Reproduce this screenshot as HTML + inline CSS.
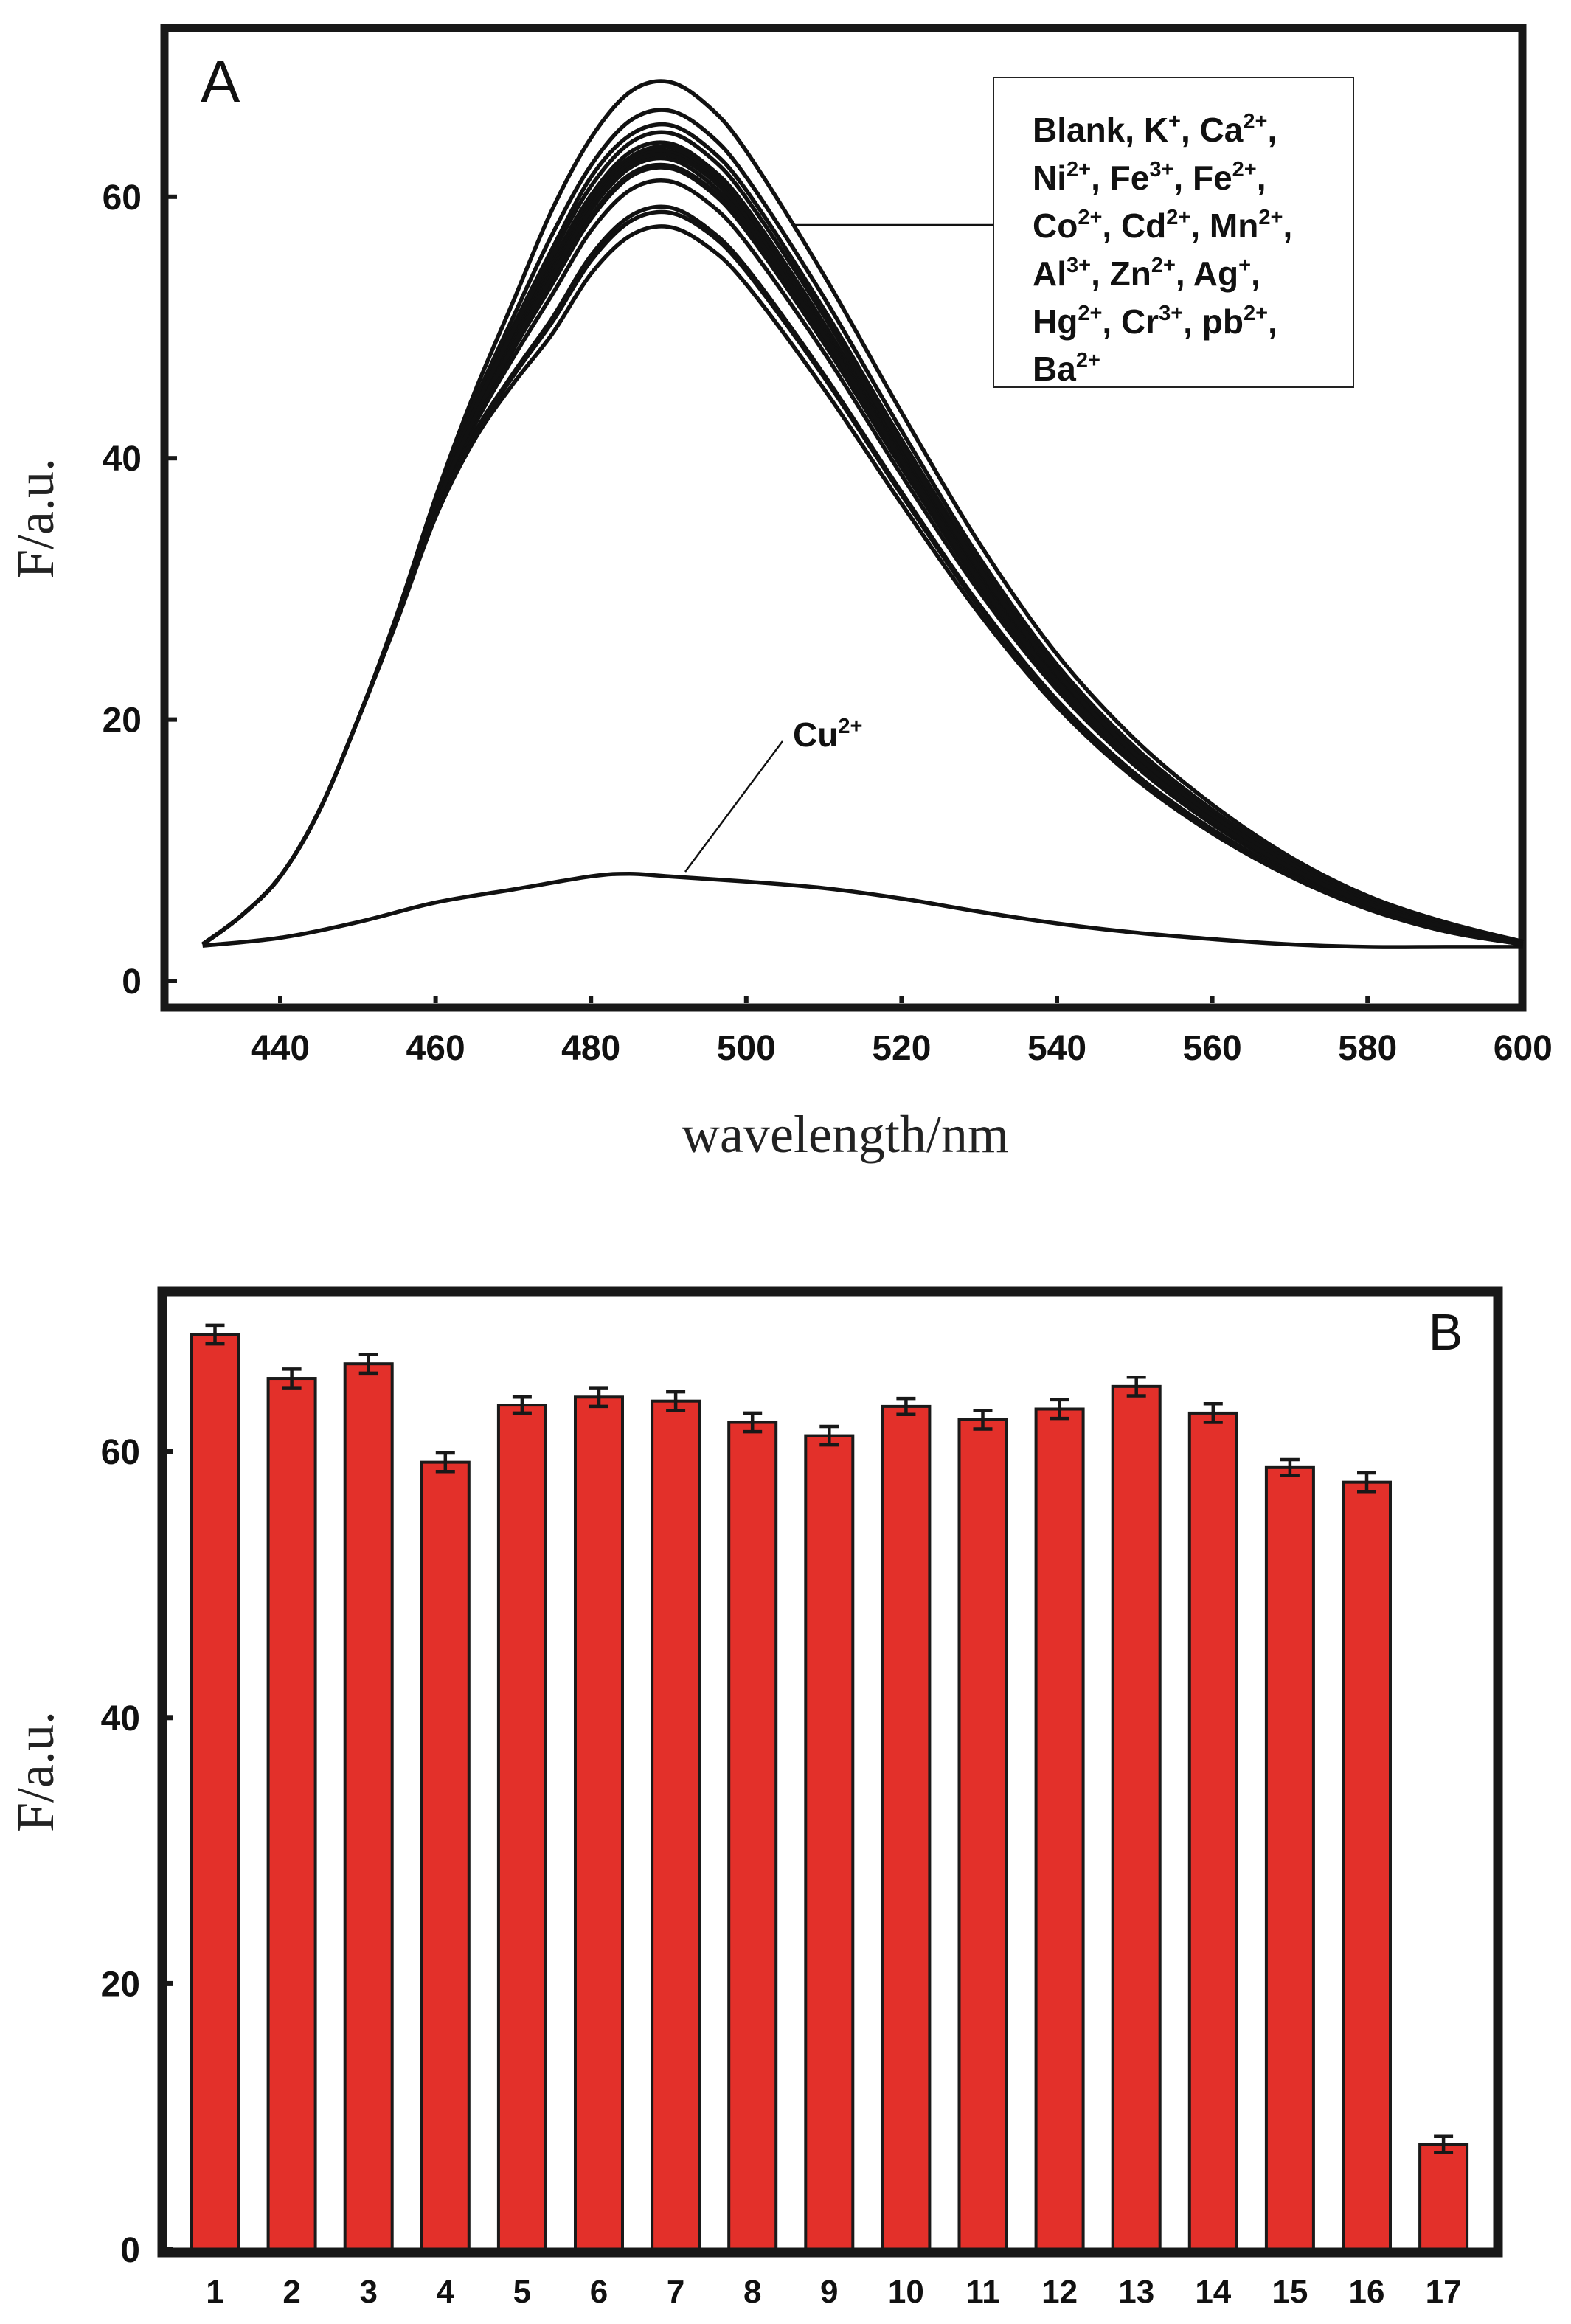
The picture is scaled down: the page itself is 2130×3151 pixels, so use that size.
<!DOCTYPE html>
<html><head><meta charset="utf-8"><style>
html,body{margin:0;padding:0;background:#fff;}
svg{display:block;}
.tick{font-family:"Liberation Sans",sans-serif;font-weight:bold;font-size:48px;fill:#111;}
.title{font-family:"Liberation Serif",serif;font-size:72px;fill:#222;}
.leg{font-family:"Liberation Sans",sans-serif;font-weight:bold;font-size:46px;fill:#111;}
.sup{font-size:29px;}
</style></head><body>
<svg id="fig" width="2130" height="3151" viewBox="0 0 2130 3151" xmlns="http://www.w3.org/2000/svg">
<rect x="0" y="0" width="2130" height="3151" fill="#fff"/>
<g id="panelA"></g>
<g id="panelB"></g>

<text x="272" y="138" font-family="Liberation Sans, sans-serif" font-size="80" fill="#111">A</text>
<rect x="1347" y="105" width="488" height="420" fill="#fff" stroke="#222" stroke-width="2"/>
<line x1="1347" y1="305" x2="1075" y2="305" stroke="#111" stroke-width="2.5"/>
<g class="leg">
<text x="1400" y="192">Blank, K<tspan class="sup" dy="-18">+</tspan><tspan dy="18">, Ca</tspan><tspan class="sup" dy="-18">2+</tspan><tspan dy="18">,</tspan></text>
<text x="1400" y="257">Ni<tspan class="sup" dy="-18">2+</tspan><tspan dy="18">, Fe</tspan><tspan class="sup" dy="-18">3+</tspan><tspan dy="18">, Fe</tspan><tspan class="sup" dy="-18">2+</tspan><tspan dy="18">,</tspan></text>
<text x="1400" y="322">Co<tspan class="sup" dy="-18">2+</tspan><tspan dy="18">, Cd</tspan><tspan class="sup" dy="-18">2+</tspan><tspan dy="18">, Mn</tspan><tspan class="sup" dy="-18">2+</tspan><tspan dy="18">,</tspan></text>
<text x="1400" y="387">Al<tspan class="sup" dy="-18">3+</tspan><tspan dy="18">, Zn</tspan><tspan class="sup" dy="-18">2+</tspan><tspan dy="18">, Ag</tspan><tspan class="sup" dy="-18">+</tspan><tspan dy="18">,</tspan></text>
<text x="1400" y="452">Hg<tspan class="sup" dy="-18">2+</tspan><tspan dy="18">, Cr</tspan><tspan class="sup" dy="-18">3+</tspan><tspan dy="18">,   pb</tspan><tspan class="sup" dy="-18">2+</tspan><tspan dy="18">,</tspan></text>
<text x="1400" y="516">Ba<tspan class="sup" dy="-18">2+</tspan></text>
</g>
<line x1="929" y1="1182" x2="1061" y2="1005" stroke="#111" stroke-width="2.5"/>
<text x="1075" y="1012" class="leg">Cu<tspan class="sup" dy="-18">2+</tspan></text>
<text x="1146" y="1562" text-anchor="middle" class="title">wavelength/nm</text>
<text transform="translate(72,703) rotate(-90)" text-anchor="middle" class="title">F/a.u.</text>

<text x="1960" y="1830" text-anchor="middle" font-family="Liberation Sans, sans-serif" font-size="70" fill="#111">B</text>
<text transform="translate(72,2402) rotate(-90)" text-anchor="middle" class="title">F/a.u.</text>
</svg>
<script>
// ---------- Panel A data ----------
const wavelengths = [430,435,440,445,450,455,460,465,470,475,480,485,490,495,500,510,520,530,540,550,560,570,580,590,600];
const spBlank = [2.8,5,8,13,20,28,37,45,52,59,64.5,68,68.8,67,63.5,54,43.5,33.5,25,18.5,13.5,9.5,6.5,4.5,3];
const spK  = [2.8,5,8,13,20,27.9,36.6,43.9,50.1,56,61.5,64.7,65.5,63.8,60.5,51.4,41.4,31.9,23.8,17.6,12.9,9,6.2,4.3,3];
const spCa = [2.8,5,8,13,20,27.9,36.7,44.3,50.8,57.1,62.4,65.8,66.6,64.9,61.5,52.3,42.1,32.4,24.2,17.9,13.1,9.2,6.3,4.4,3];
const spNi = [2.8,5,8,13,20,27.6,35.7,41.9,46.5,50.7,55.5,58.5,59.2,57.6,54.6,46.4,37.4,28.8,21.5,15.9,11.6,8.2,5.6,3.9,2.8];
const spFe3 = [2.8,5,8,13,20,27.8,36.3,43.3,49,54.5,59.5,62.8,63.5,61.8,58.6,49.8,40.1,30.9,23.1,17.1,12.5,8.8,6,4.2,3];
const spFe2 = [2.8,5,8,13,20,27.8,36.4,43.5,49.3,55,60.1,63.4,64.1,62.4,59.2,50.3,40.5,31.2,23.3,17.2,12.6,8.9,6.1,4.2,3];
const spCo = [2.8,5,8,13,20,27.8,36.3,43.4,49.2,54.7,59.8,63,63.8,62.1,58.9,50.1,40.3,31.1,23.2,17.1,12.5,8.8,6,4.2,3];
const spCd = [2.8,5,8,13,20,27.7,36.1,42.8,48.3,53.3,58.3,61.5,62.2,60.6,57.4,48.8,39.3,30.3,22.6,16.7,12.2,8.6,5.9,4.1,3];
const spMn = [2.8,5,8,13,20,27.7,36,42.5,47.7,52.5,57.4,60.5,61.2,59.6,56.5,48.1,38.7,29.8,22.3,16.5,12,8.5,5.8,4,3];
const spAl = [2.8,5,8,13,20,27.8,36.3,43.2,49,54.4,59.5,62.7,63.4,61.8,58.5,49.8,40.1,30.9,23,17.1,12.4,8.8,6,4.1,3];
const spZn = [2.8,5,8,13,20,27.7,36.1,42.9,48.4,53.5,58.5,61.7,62.4,60.8,57.6,49,39.5,30.4,22.7,16.8,12.2,8.6,5.9,4.1,3];
const spAg = [2.8,5,8,13,20,27.8,36.3,43.2,48.8,54.2,59.3,62.5,63.2,61.6,58.4,49.6,40,30.8,23,17,12.4,8.7,6,4.1,3];
const spHg = [2.8,5,8,13,20,27.8,36.5,43.7,49.8,55.6,60.8,64.1,64.9,63.2,59.9,50.9,41,31.6,23.6,17.4,12.7,9,6.1,4.2,3];
const spCr = [2.8,5,8,13,20,27.8,36.2,43.1,48.6,53.9,59,62.2,62.9,61.2,58,49.4,39.8,30.6,22.9,16.9,12.3,8.7,5.9,4.1,3];
const spPb = [2.8,5,8,13,20,27.6,35.7,41.7,46.3,50.4,55.1,58.1,58.8,57.3,54.3,46.2,37.2,28.6,21.4,15.8,11.5,8.1,5.6,3.8,2.8];
const spBa = [2.8,5,8,13,20,27.5,35.5,41.4,45.7,49.5,54.1,57,57.7,56.2,53.3,45.3,36.5,28.1,21,15.5,11.3,8,5.5,3.8,2.8];
const cuWavelengths = [430,440,450,460,470,480,485,490,500,510,520,530,540,550,560,570,580,590,600];
const spCu = [2.7,3.3,4.5,6,7,8,8.2,8,7.6,7.1,6.3,5.3,4.4,3.7,3.2,2.8,2.6,2.6,2.6];
const seriesA = [spBlank,spK,spCa,spNi,spFe3,spFe2,spCo,spCd,spMn,spAl,spZn,spAg,spHg,spCr,spPb,spBa];
const seriesANames = ['blank','k','ca','ni','fe3','fe2','co','cd','mn','al','zn','ag','hg','cr','pb','ba'];
const xTicksA = [440,460,480,500,520,540,560,580,600];
const yTicksA = [0,20,40,60];

// ---------- Panel B data ----------
const categoriesB = ['1','2','3','4','5','6','7','8','9','10','11','12','13','14','15','16','17'];
const valuesB = [68.8,65.5,66.6,59.2,63.5,64.1,63.8,62.2,61.2,63.4,62.4,63.2,64.9,62.9,58.8,57.7,7.9];
const errorsB = [0.7,0.7,0.7,0.7,0.6,0.7,0.7,0.7,0.7,0.6,0.7,0.7,0.7,0.7,0.6,0.7,0.6];
const yTicksB = [0,20,40,60];

const NS = 'http://www.w3.org/2000/svg';
function mk(tag, attrs, parent){
  const e = document.createElementNS(NS, tag);
  for (const k in attrs) e.setAttribute(k, attrs[k]);
  parent.appendChild(e); return e;
}
function smoothPath(pts){
  let d = 'M' + pts[0][0].toFixed(1) + ',' + pts[0][1].toFixed(1);
  for (let i = 0; i < pts.length - 1; i++){
    const p0 = pts[i-1] || pts[i], p1 = pts[i], p2 = pts[i+1], p3 = pts[i+2] || p2;
    const c1x = p1[0] + (p2[0]-p0[0])/6, c1y = p1[1] + (p2[1]-p0[1])/6;
    const c2x = p2[0] - (p3[0]-p1[0])/6, c2y = p2[1] - (p3[1]-p1[1])/6;
    d += ' C' + c1x.toFixed(1)+','+c1y.toFixed(1)+' '+c2x.toFixed(1)+','+c2y.toFixed(1)+' '+p2[0].toFixed(1)+','+p2[1].toFixed(1);
  }
  return d;
}

// ---------- Panel A ----------
const gA = document.getElementById('panelA');
const xA = w => 380 + (w - 440) * 10.53;
const yA = v => 1330 - v * 17.72;
const frameA = mk('rect', {x:223, y:38, width:1841, height:1328, fill:'none', stroke:'#181818', 'stroke-width':11}, gA);


xTicksA.forEach(t => {
  const tk = mk('line', {x1:xA(t), x2:xA(t), y1:1360, y2:1350, stroke:'#181818', 'stroke-width':6}, gA);
  
  
  const lb = mk('text', {x:xA(t), y:1437, 'text-anchor':'middle', class:'tick'}, gA);
  lb.textContent = t;
  
  
});
yTicksA.forEach(t => {
  const tk = mk('line', {x1:228, x2:240, y1:yA(t), y2:yA(t), stroke:'#181818', 'stroke-width':6}, gA);
  
  
  const lb = mk('text', {x:192, y:yA(t)+17, 'text-anchor':'end', class:'tick'}, gA);
  lb.textContent = t;
  
  
});
seriesA.forEach((s, i) => {
  const pts = s.map((v, j) => [xA(wavelengths[j]), yA(v)]);
  const p = mk('path', {d:smoothPath(pts), fill:'none', stroke:'#111', 'stroke-width':5.5, 'stroke-linejoin':'round'}, gA);
  
  
});
const cuPts = spCu.map((v, j) => [xA(cuWavelengths[j]), yA(v)]);
const cuLine = mk('path', {d:smoothPath(cuPts), fill:'none', stroke:'#111', 'stroke-width':5.5}, gA);



// ---------- Panel B ----------
const gB = document.getElementById('panelB');
const yB = v => 3050 - v * 18.03;
const xB = i => 291.5 + i * 104.1;
const barW = 64;
valuesB.forEach((v, i) => {
  const b = mk('rect', {x:xB(i)-barW/2, y:yB(v), width:barW, height:3050-yB(v), fill:'#e3302a', stroke:'#1a1a1a', 'stroke-width':4}, gB);
  
  
  const e = errorsB[i];
  const eb = mk('g', {stroke:'#181818', 'stroke-width':4.5}, gB);
  
  
  mk('line', {x1:xB(i), x2:xB(i), y1:yB(v+e), y2:yB(v-e)}, eb);
  mk('line', {x1:xB(i)-13, x2:xB(i)+13, y1:yB(v+e), y2:yB(v+e)}, eb);
  mk('line', {x1:xB(i)-13, x2:xB(i)+13, y1:yB(v-e), y2:yB(v-e)}, eb);
  const lb = mk('text', {x:xB(i), y:3122, 'text-anchor':'middle', class:'tick'}, gB);
  lb.style.fontSize = '44px';
  lb.textContent = categoriesB[i];
  
  
});
const frameB = mk('rect', {x:220, y:1751, width:1811, height:1303, fill:'none', stroke:'#181818', 'stroke-width':13}, gB);


yTicksB.forEach(t => {
  const tk = mk('line', {x1:225, x2:235, y1:yB(t), y2:yB(t), stroke:'#181818', 'stroke-width':7}, gB);
  
  
  const lb = mk('text', {x:190, y:yB(t)+17, 'text-anchor':'end', class:'tick'}, gB);
  lb.textContent = t;
  
  
});
</script>
</body></html>
